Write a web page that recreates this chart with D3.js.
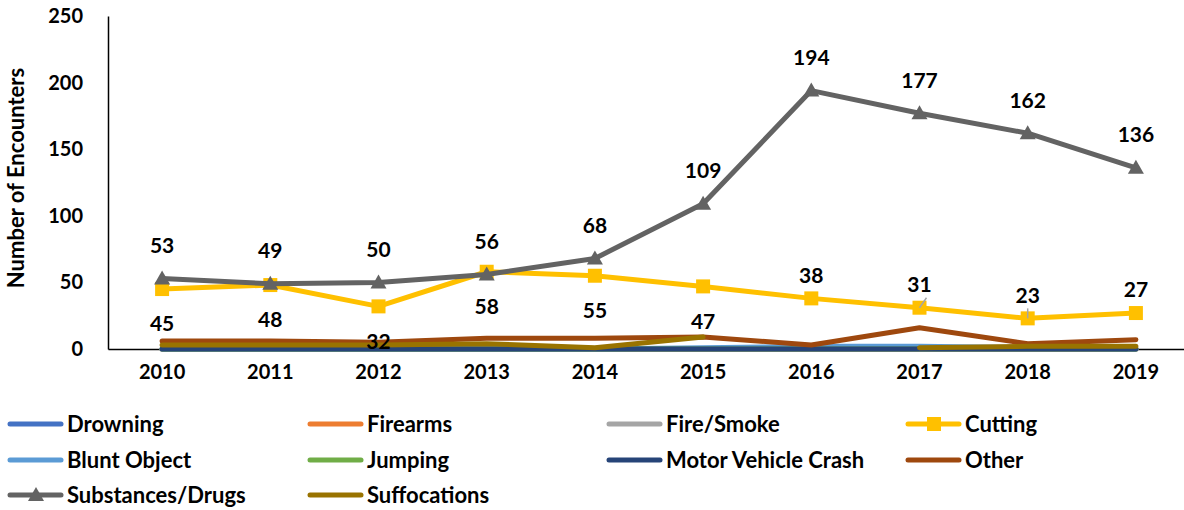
<!DOCTYPE html>
<html><head><meta charset="utf-8">
<script src="https://cdn.jsdelivr.net/npm/d3@7"></script>
<style>
html,body{margin:0;padding:0;background:#fff;}
text{font-family:Lato,"Open Sans",sans-serif;font-weight:bold;fill:#000;}
</style></head>
<body><svg id="c" width="1184" height="510"></svg>
<script>
const years = ["2010","2011","2012","2013","2014","2015","2016","2017","2018","2019"];
const yTicks = [0,50,100,150,200,250];
const drowning = [0,0,0,0,0,0,0,0,0,0];
const firearms = [0,0,0,0,0,0,0,0,0,0];
const fireSmoke = [0,0,0,0,0,0,0,0,0,0];
const cutting = [45,48,32,58,55,47,38,31,23,27];
const bluntObject = [0,0,0,0,0,1,2,2,1,0];
const jumping = [0,0,0,0,0,0,0,0,0,0];
const motorVehicle = [0,0,0,0,0,0,0,0,0,0];
const other = [6,6,5,8,8,9,3,16,4,7];
const substances = [53,49,50,56,68,109,194,177,162,136];
const suffocations = [3,3,3,4,1,9,null,1,2,2];
const seriesNames = ["Drowning","Firearms","Fire/Smoke","Cutting","Blunt Object","Jumping","Motor Vehicle Crash","Other","Substances/Drugs","Suffocations"];
const seriesColors = ["#4472C4","#ED7D31","#A5A5A5","#FFC000","#5B9BD5","#70AD47","#264478","#9E480E","#636363","#997300"];
const seriesMarkers = [null,null,null,"square",null,null,null,null,"triangle",null];
const seriesData = [drowning,firearms,fireSmoke,cutting,bluntObject,jumping,motorVehicle,other,substances,suffocations];
const cuttingLabelsBelow = ["2010","2011","2012","2013","2014","2015"];
const leaderYears = ["2017","2018"];

const svg = d3.select("#c");
const x = d3.scaleBand().domain(years).range([108,1190]);
const cx = d => x(d) + x.bandwidth()/2;
const y = d3.scaleLinear().domain([0,250]).range([349,16]);

// axes
const yAxis = d3.axisLeft(y).tickValues(yTicks).tickSize(0).tickPadding(25);
const gy = svg.append("g").attr("transform","translate(108,0)").call(yAxis);
gy.select(".domain").attr("stroke","#000").attr("stroke-width",1.5);
gy.selectAll("text").style("font-size","20px").style("font-family","Lato").attr("font-weight","bold");

const xAxis = d3.axisBottom(x).tickSize(0).tickPadding(16);
const gx = svg.append("g").attr("transform","translate(0,349)").call(xAxis);
gx.select(".domain").attr("stroke","#000").attr("stroke-width",1.5);
gx.selectAll("text").style("font-size","20px").style("font-family","Lato").attr("font-weight","bold");

svg.append("text").attr("transform","translate(24,178) rotate(-90)")
  .attr("text-anchor","middle").style("font-size","22px").text("Number of Encounters");

const line = d3.line().defined(d => d.v !== null).x(d => cx(d.year)).y(d => y(d.v));

function marker(g, type, color, px, py){
  if(type==="square"){
    g.append("rect").attr("x",px-7).attr("y",py-7).attr("width",14).attr("height",14).attr("fill",color);
  } else if(type==="triangle"){
    g.append("path").attr("d",`M${px},${py-8}L${px+8},${py+6}L${px-8},${py+6}Z`).attr("fill",color);
  }
}

seriesData.forEach((vals,i)=>{
  const pts = years.map((yr,j)=>({year:yr,v:vals[j]}));
  const g = svg.append("g");
  g.append("path").datum(pts).attr("d",line).attr("fill","none")
    .attr("stroke",seriesColors[i]).attr("stroke-width",5)
    .attr("stroke-linecap","round").attr("stroke-linejoin","round");
  if(seriesMarkers[i]){
    pts.forEach(p=>{ if(p.v!==null) marker(g,seriesMarkers[i],seriesColors[i],cx(p.year),y(p.v)); });
  }
});

// leader lines
leaderYears.forEach(yr=>{
  const j = years.indexOf(yr);
  const px = cx(yr), py = y(cutting[j]);
  const dx = yr==="2017" ? 7 : 0;
  svg.append("line").attr("x1",px).attr("y1",py).attr("x2",px+dx).attr("y2",py-10)
    .attr("stroke","#A5A5A5").attr("stroke-width",1.5);
});

// data labels
const lbl = svg.append("g").style("font-size","21px");
years.forEach((yr,j)=>{
  lbl.append("text").attr("x",cx(yr)).attr("y",y(substances[j])-33).attr("dy","0.35em")
    .attr("text-anchor","middle").text(substances[j]);
  const below = cuttingLabelsBelow.includes(yr);
  lbl.append("text").attr("x",cx(yr)).attr("y",y(cutting[j])+(below?35:-23)).attr("dy","0.35em")
    .attr("text-anchor","middle").text(cutting[j]);
});

// legend
const legCols = [8,308,607,906], legRows = [424,460,495];
seriesNames.forEach((nm,i)=>{
  const lx = legCols[i%4], ly = legRows[Math.floor(i/4)];
  const g = svg.append("g");
  g.append("line").attr("x1",lx+2).attr("x2",lx+53).attr("y1",ly).attr("y2",ly)
    .attr("stroke",seriesColors[i]).attr("stroke-width",5).attr("stroke-linecap","round");
  if(seriesMarkers[i]) marker(g,seriesMarkers[i],seriesColors[i],lx+28,ly);
  g.append("text").attr("x",lx+59).attr("y",ly).attr("dy","0.35em").style("font-size","22px").text(nm);
});
</script></body></html>
